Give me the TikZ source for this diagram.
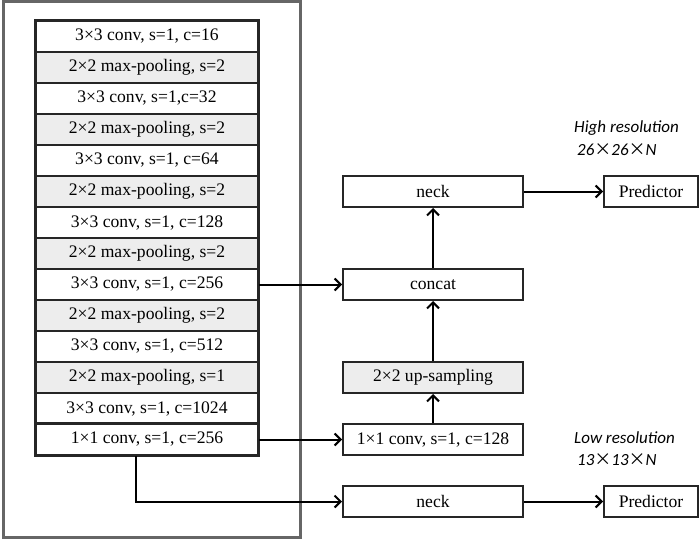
\documentclass[tikz,border=0pt]{standalone}
\usepackage{fontspec}
\setmainfont{Liberation Serif}
\newfontfamily\lblfont{Carlito}
\newfontfamily\cjk{Noto Sans CJK SC}
\usetikzlibrary{arrows.meta,calc}
\begin{document}
\begin{tikzpicture}[x=1pt,y=-1pt,
  rowbox/.style={draw=black!85,line width=1.1pt,minimum width=222pt,minimum height=31pt,inner sep=0pt,font=\fontsize{17.6}{19}\selectfont},
  poolbox/.style={rowbox,fill=black!7},
  rbox/.style={draw=black!85,line width=2pt,minimum width=180pt,minimum height=31pt,inner sep=0pt,font=\fontsize{17.6}{19}\selectfont},
  pbox/.style={rbox,minimum width=94pt},
  arr/.style={line width=2pt,-{Straight Barb[length=6pt,width=12pt,line width=2pt]}},
  lbl/.style={font=\lblfont\itshape\fontsize{17}{19}\selectfont,anchor=west,inner sep=0pt}]
\useasboundingbox (0,0) rectangle (700,540);
\draw[black!60,line width=3pt] (3,2) rectangle (300,537);
% stack
\node[rowbox]  (r0)  at (147,36.5)  {3×3 conv, s=1, c=16};
\node[poolbox] (r1)  at (147,67.5)  {2×2 max-pooling, s=2};
\node[rowbox]  (r2)  at (147,98.5)  {3×3 conv, s=1,c=32};
\node[poolbox] (r3)  at (147,129.5) {2×2 max-pooling, s=2};
\node[rowbox]  (r4)  at (147,160.5) {3×3 conv, s=1, c=64};
\node[poolbox] (r5)  at (147,191.5) {2×2 max-pooling, s=2};
\node[rowbox]  (r6)  at (147,222.5) {3×3 conv, s=1, c=128};
\node[poolbox] (r7)  at (147,253.5) {2×2 max-pooling, s=2};
\node[rowbox]  (r8)  at (147,284.5) {3×3 conv, s=1, c=256};
\node[poolbox] (r9)  at (147,315.5) {2×2 max-pooling, s=2};
\node[rowbox]  (r10) at (147,346.5) {3×3 conv, s=1, c=512};
\node[poolbox] (r11) at (147,377.5) {2×2 max-pooling, s=1};
\node[rowbox]  (r12) at (147,408.5) {3×3 conv, s=1, c=1024};
\node[rowbox]  (r13) at (147,439.5) {1×1 conv, s=1, c=256};
\draw[black!85,line width=2pt] (r0.north west) rectangle (r13.south east);
\draw[black!85,line width=2pt] (r13.north west) -- (r13.north east);
% right column
\node[rbox] (neckt) at (433,191.5) {neck};
\node[pbox] (predt) at (651,191.5) {Predictor};
\node[rbox] (concat) at (433,284.5) {concat};
\node[rbox,fill=black!7] (up) at (433,377.5) {2×2 up-sampling};
\node[rbox] (conv) at (433,439.5) {1×1 conv, s=1, c=128};
\node[rbox] (neckb) at (433,501.5) {neck};
\node[pbox] (predb) at (651,501.5) {Predictor};
% connectors
\draw[arr] (r8.east) -- (concat.west);
\draw[arr] (r13.east) -- (conv.west);
\coordinate (turn) at (136,501.5);
\draw[arr] (r13.south -| turn) -- (turn) -- (neckb.west);
\draw[arr] (conv.north) -- (up.south);
\draw[arr] (up.north) -- (concat.south);
\draw[arr] (concat.north) -- (neckt.south);
\draw[arr] (neckt.east) -- (predt.west);
\draw[arr] (neckb.east) -- (predb.west);
% labels
\node[lbl] (hr) at (574,128) {High resolution};
\node[lbl] (hs) at (577,150) {26{\cjk ×}26{\cjk ×}N};
\node[lbl] (lr) at (574,438) {Low resolution};
\node[lbl] (ls) at (577,460) {13{\cjk ×}13{\cjk ×}N};
\end{tikzpicture}
\end{document}
